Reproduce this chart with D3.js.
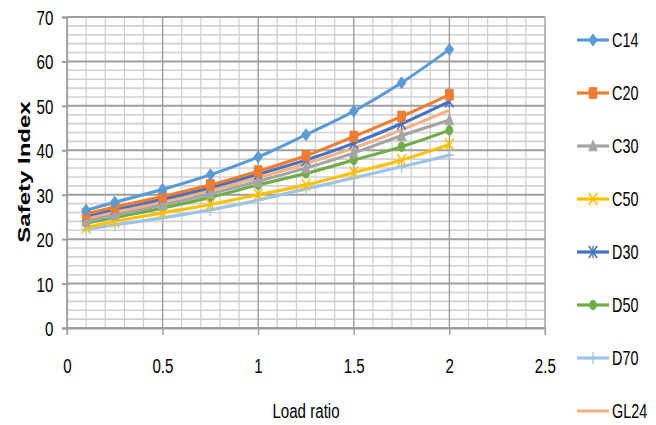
<!DOCTYPE html>
<html>
<head>
<meta charset="utf-8">
<script src="https://cdn.jsdelivr.net/npm/d3@7"></script>
<style>
body { margin: 0; background: #fff; }
svg { display: block; }
</style>
</head>
<body>
<div id="graph"></div>
<script>
// values
let loadRatio = [0.1, 0.25, 0.5, 0.75, 1, 1.25, 1.5, 1.75, 2];
let seriesNames = ["C14", "C20", "C30", "C50", "D30", "D50", "D70", "GL24"];
let C14  = [26.5, 28.3, 31.2, 34.5, 38.5, 43.5, 48.8, 55.2, 62.7];
let C20  = [25.7, 27.2, 29.6, 32.2, 35.3, 38.8, 43.1, 47.6, 52.5];
let C30  = [24.0, 25.4, 27.7, 30.2, 33.0, 36.0, 39.4, 43.3, 46.8];
let C50  = [22.6, 24.0, 25.9, 27.8, 30.0, 32.2, 35.0, 37.8, 41.3];
let D30  = [25.2, 26.7, 29.0, 31.6, 34.6, 37.8, 41.6, 46.0, 51.0];
let D50  = [23.6, 24.9, 27.0, 29.4, 32.2, 34.8, 37.8, 40.8, 44.5];
let D70  = [22.2, 23.2, 24.8, 26.6, 28.8, 31.3, 33.8, 36.3, 38.9];
let GL24 = [24.6, 26.0, 28.4, 31.0, 33.8, 37.0, 40.5, 44.6, 49.0];
let xTicks = [0, 0.5, 1, 1.5, 2, 2.5];
let yTicks = [0, 10, 20, 30, 40, 50, 60, 70];

let colors = {C14:"#5B9BD5", C20:"#ED7D31", C30:"#A5A5A5", C50:"#FFC000",
              D30:"#4472C4", D50:"#70AD47", D70:"#9DC3E6", GL24:"#F4B183"};
let markers = {C14:"diamond", C20:"square", C30:"triangle", C50:"x",
               D30:"star", D50:"circle", D70:"plus", GL24:"none"};
let values = {C14, C20, C30, C50, D30, D50, D70, GL24};

let width = 656, height = 425;
let sx = 0.72;   // the picture is squeezed sideways
let W = width / sx;

let svg = d3.select("div#graph").append("svg")
	.attr("width", width)
	.attr("height", height);

let g = svg.append("g").attr("transform", `scale(${sx},1)`);

let xScale = d3.scaleLinear().domain([0, 2.5]).range([67 / sx, 545 / sx]);
let yScale = d3.scaleLinear().domain([0, 70]).range([328, 17]);

let font = "'Liberation Sans', Arial, sans-serif";

// minor grid
let minorX = d3.range(0, 2.51, 0.1).map(d => +d.toFixed(1)).filter(d => xTicks.indexOf(d) < 0);
let minorY = d3.range(0, 71, 2).filter(d => d % 10 != 0);

g.append("g").selectAll("line").data(minorY).enter().append("line")
	.attr("x1", xScale(0)).attr("x2", xScale(2.5))
	.attr("y1", d => yScale(d)).attr("y2", d => yScale(d))
	.attr("stroke", "#d0d0d0").attr("stroke-width", 1.6);
g.append("g").selectAll("line").data(minorX).enter().append("line")
	.attr("x1", d => xScale(d)).attr("x2", d => xScale(d))
	.attr("y1", yScale(0)).attr("y2", yScale(70))
	.attr("stroke", "#d0d0d0").attr("stroke-width", 1.8);

// major grid
g.append("g").selectAll("line").data(yTicks).enter().append("line")
	.attr("x1", xScale(0)).attr("x2", xScale(2.5))
	.attr("y1", d => yScale(d)).attr("y2", d => yScale(d))
	.attr("stroke", "#9e9e9e").attr("stroke-width", 2);
g.append("g").selectAll("line").data(xTicks).enter().append("line")
	.attr("x1", d => xScale(d)).attr("x2", d => xScale(d))
	.attr("y1", yScale(0)).attr("y2", yScale(70))
	.attr("stroke", "#9e9e9e").attr("stroke-width", 2);

// axes
let xAxis = d3.axisBottom(xScale).tickValues(xTicks).tickSize(7).tickPadding(23)
	.tickFormat(d => d);
let yAxis = d3.axisLeft(yScale).tickValues(yTicks).tickSize(7).tickPadding(12);

let gx = g.append("g").attr("class", "x axis")
	.attr("transform", `translate(0, ${yScale(0)})`).call(xAxis);
let gy = g.append("g").attr("class", "y axis")
	.attr("transform", `translate(${xScale(0)}, 0)`).call(yAxis);

[gx, gy].forEach(a => {
	a.select(".domain").attr("stroke", "#9e9e9e").attr("stroke-width", 2);
	a.selectAll(".tick line").attr("stroke", "#9e9e9e").attr("stroke-width", 2);
	a.selectAll("text").attr("font-family", font).attr("font-size", 21).attr("fill", "#000");
});
gy.selectAll("text").attr("dy", "0.36em");

// titles
g.append("text")
	.attr("x", 306 / sx).attr("y", 418)
	.attr("text-anchor", "middle")
	.attr("font-family", font).attr("font-size", 21)
	.text("Load ratio");

g.append("text")
	.attr("transform", `translate(${30 / sx}, 172) rotate(-90)`)
	.attr("text-anchor", "middle")
	.attr("font-family", font).attr("font-size", 24).attr("font-weight", "bold")
	.text("Safety Index");

// marker shapes
function markerPath(type, r) {
	let p = d3.path();
	if (type == "diamond") {
		p.moveTo(0, -r); p.lineTo(r, 0); p.lineTo(0, r); p.lineTo(-r, 0); p.closePath();
	} else if (type == "square") {
		p.rect(-r * 0.9, -r * 0.9, r * 1.8, r * 1.8);
	} else if (type == "triangle") {
		p.moveTo(0, -r); p.lineTo(r, r * 0.8); p.lineTo(-r, r * 0.8); p.closePath();
	} else if (type == "circle") {
		p.arc(0, 0, r * 0.8, 0, 2 * Math.PI);
	} else if (type == "x") {
		p.moveTo(-r, -r); p.lineTo(r, r); p.moveTo(r, -r); p.lineTo(-r, r);
	} else if (type == "plus") {
		p.moveTo(-r, 0); p.lineTo(r, 0); p.moveTo(0, -r); p.lineTo(0, r);
	} else if (type == "star") {
		p.moveTo(-r, -r); p.lineTo(r, r); p.moveTo(r, -r); p.lineTo(-r, r);
		p.moveTo(0, -r); p.lineTo(0, r);
	}
	return p.toString();
}

function drawMarker(sel, name) {
	let type = markers[name];
	if (type == "none") return;
	let filled = ["diamond", "square", "triangle", "circle"].indexOf(type) >= 0;
	sel.append("path")
		.attr("d", markerPath(type, 6))
		.attr("fill", filled ? colors[name] : "none")
		.attr("stroke", colors[name])
		.attr("stroke-width", filled ? 1 : 1.8);
}

let line = d3.line()
	.x((d, i) => xScale(loadRatio[i]))
	.y(d => yScale(d))
	.curve(d3.curveCatmullRom.alpha(0.5));

let drawOrder = ["GL24", "D70", "D50", "D30", "C50", "C30", "C20", "C14"];
drawOrder.forEach(name => {
	let s = g.append("g").attr("class", "series " + name);
	s.append("path")
		.attr("d", line(values[name]))
		.attr("fill", "none")
		.attr("stroke", colors[name])
		.attr("stroke-width", 3.2);
	values[name].forEach((v, i) => {
		let m = s.append("g").attr("transform", `translate(${xScale(loadRatio[i])}, ${yScale(v)})`);
		drawMarker(m, name);
	});
});

// legend
let legend = g.append("g").attr("class", "legend");
seriesNames.forEach((name, i) => {
	let y = 40 + i * 53;
	let item = legend.append("g");
	item.append("line")
		.attr("x1", 577 / sx).attr("x2", 609 / sx)
		.attr("y1", y).attr("y2", y)
		.attr("stroke", colors[name]).attr("stroke-width", 3.2);
	let m = item.append("g").attr("transform", `translate(${593 / sx}, ${y})`);
	drawMarker(m, name);
	item.append("text")
		.attr("x", 612 / sx).attr("y", y).attr("dy", "0.36em")
		.attr("font-family", font).attr("font-size", 20)
		.text(name);
});
</script>
</body>
</html>
